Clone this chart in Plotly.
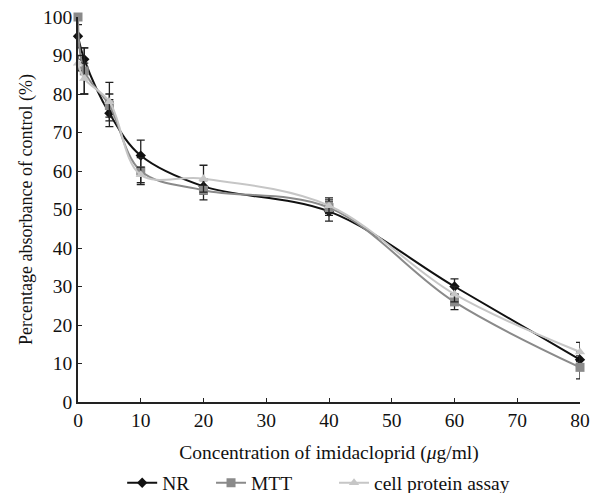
import plotly.graph_objects as go

conc = [0, 1, 5, 10, 20, 40, 60, 80]
nr = [95, 89, 75, 64, 56, 49.5, 30, 11]
nr_err = [3, 3, 3.5, 4, 2, 2.5, 2, 2]
mtt = [100, 86, 77, 60, 55, 50.5, 26, 9]
mtt_err = [0, 6, 3, 3.5, 2.5, 2, 2, 3]
cpa = [88, 84, 78, 59, 58, 51, 28, 13]
cpa_err = [2, 4, 5, 2, 3.5, 2, 2, 2.5]

series = [
    ("NR", nr, nr_err, "#111111", "diamond", 8, "legend", 0.088),
    ("MTT", mtt, mtt_err, "#8a8a8a", "square", 9, "legend2", 0.265),
    ("cell protein assay", cpa, cpa_err, "#c6c6c6", "triangle-up", 9, "legend3", 0.51),
]

font = "Liberation Serif"
fig = go.Figure()
legends = {}
for name, y, e, col, sym, ms, lg, lx in series:
    fig.add_trace(go.Scatter(
        x=conc, y=y, name=name, mode="lines+markers", legend=lg,
        line=dict(color=col, width=2, shape="spline", smoothing=1),
        marker=dict(symbol=sym, size=ms, color=col),
        error_y=dict(type="data", array=e, visible=True, color="#222222", thickness=1.3, width=4),
        cliponaxis=False,
    ))
    legends[lg] = dict(orientation="h", x=lx, xanchor="left", xref="paper",
                       y=0.02, yanchor="middle", yref="container",
                       font=dict(size=19.5, family=font), bgcolor="rgba(0,0,0,0)")

fig.update_layout(
    width=590, height=493,
    margin=dict(l=78, r=10, t=17, b=91, autoexpand=False),
    plot_bgcolor="white", paper_bgcolor="white",
    font=dict(family=font, size=19, color="#111111"),
    showlegend=True,
    **legends,
    xaxis=dict(range=[0, 80], tickvals=[0, 10, 20, 30, 40, 50, 60, 70, 80],
               showline=True, linecolor="#222", linewidth=1.5, ticks="inside", ticklen=4,
               tickcolor="#222", showgrid=False, zeroline=False, automargin=False,
               title=dict(text="Concentration of imidacloprid (<i>μ</i>g/ml)", font=dict(size=19.5), standoff=18),
               tickfont=dict(size=19.5)),
    yaxis=dict(range=[0, 100], tickvals=list(range(0, 101, 10)),
               showline=True, linecolor="#222", linewidth=1.5, ticks="inside", ticklen=4,
               tickcolor="#222", showgrid=False, zeroline=False, automargin=False,
               title=dict(text="Percentage absorbance of control (%)", font=dict(size=18), standoff=6),
               tickfont=dict(size=19.5)),
)
fig.write_html("out.html", config={"displayModeBar": False},
               post_script="document.body.style.margin='0';document.body.style.padding='0';")
